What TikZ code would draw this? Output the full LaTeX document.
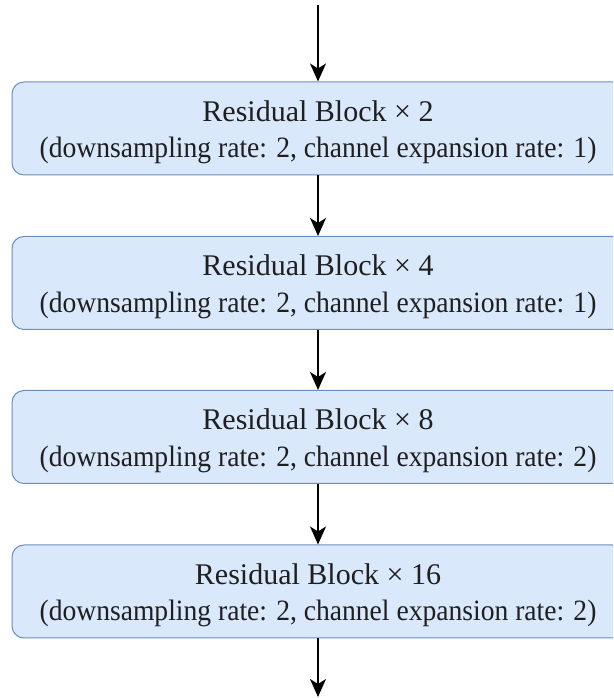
\documentclass[tikz,border=0pt]{standalone}
\usepackage{fontspec}
\setmainfont{Liberation Serif}
\usetikzlibrary{arrows.meta}
\definecolor{boxfill}{HTML}{DAE8FC}
\definecolor{boxline}{HTML}{6C8EBF}
\newcommand{\subtxt}[1]{\scalebox{0.935}[1]{#1}}
\begin{document}
\begin{tikzpicture}[x=1pt,y=1pt,
  blk/.style={draw=boxline, fill=boxfill, line width=1pt, rounded corners=12pt,
    minimum width=612pt, minimum height=93pt, inner sep=0pt},
  ttl/.style={font=\fontsize{30}{34}\selectfont, text=black!88, inner sep=0pt, anchor=base},
  sub/.style={font=\fontsize{29.5}{34}\selectfont, text=black!88, inner sep=0pt, anchor=base},
  conn/.style={line width=1.8pt, -{Stealth[length=18pt,width=16pt,inset=5pt]}}]
\useasboundingbox (0,0) rectangle (613,698);
\clip (0,0) rectangle (613,698);
\node[blk] (b1) at (318,569.5) {};
\node[blk] (b2) at (318,415) {};
\node[blk] (b3) at (318,261) {};
\node[blk] (b4) at (318,106.5) {};
\node[ttl] (t1) at ([yshift=7pt]b1.center) {Residual Block × 2};
\node[sub] (s1) at ([yshift=-29.5pt]b1.center) {\subtxt{(downsampling rate: 2, channel expansion rate: 1)}};
\node[ttl] (t2) at ([yshift=7pt]b2.center) {Residual Block × 4};
\node[sub] (s2) at ([yshift=-29.5pt]b2.center) {\subtxt{(downsampling rate: 2, channel expansion rate: 1)}};
\node[ttl] (t3) at ([yshift=7pt]b3.center) {Residual Block × 8};
\node[sub] (s3) at ([yshift=-29.5pt]b3.center) {\subtxt{(downsampling rate: 2, channel expansion rate: 2)}};
\node[ttl] (t4) at ([yshift=7pt]b4.center) {Residual Block × 16};
\node[sub] (s4) at ([yshift=-29.5pt]b4.center) {\subtxt{(downsampling rate: 2, channel expansion rate: 2)}};
\coordinate (in) at (318,693);
\coordinate (out) at (318,1);
\draw[conn] (in) -- (b1.north);
\draw[conn] (b1.south) -- (b2.north);
\draw[conn] (b2.south) -- (b3.north);
\draw[conn] (b3.south) -- (b4.north);
\draw[conn] (b4.south) -- (out);
\end{tikzpicture}
\end{document}
